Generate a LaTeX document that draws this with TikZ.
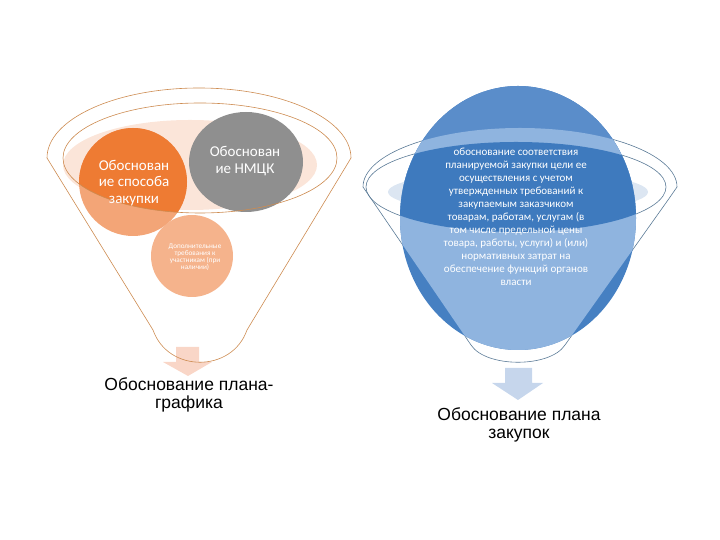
\documentclass[tikz,border=0pt]{standalone}
\usepackage{fontspec}
\setmainfont{Liberation Sans}
\newfontfamily\calfont{Carlito}
\usepackage{xcolor}
\definecolor{rimorange}{HTML}{CD8B50}
\definecolor{darkorange}{HTML}{EE7B33}
\definecolor{lightorange}{HTML}{F3A577}
\definecolor{peach}{HTML}{F5B38C}
\definecolor{paleorange}{HTML}{FBE5D9}
\definecolor{arroworange}{HTML}{F9D6C7}
\definecolor{midgray}{HTML}{8F8F8F}
\definecolor{rimblue}{HTML}{5A7A96}
\definecolor{topblue}{HTML}{5A8DCA}
\definecolor{sideblue}{HTML}{4680C2}
\definecolor{darkblue}{HTML}{3E7ABE}
\definecolor{lightblue}{HTML}{8FB4DF}
\definecolor{paleblue}{HTML}{DCE6F2}
\definecolor{arrowblue}{HTML}{C6D6EC}

\begin{document}
\begin{tikzpicture}[x=1pt,y=1pt,
    rim/.style={line width=0.6pt},
    circtext/.style={text=white, align=center, font=\calfont\fontsize{15}{16.5}\selectfont},
    caption/.style={align=center, font=\fontsize{17.5}{18.5}\selectfont}]
	\useasboundingbox (0,0) rectangle (720,540);
	\def\leftfunnel{(47,382) arc[start angle=180, end angle=0, x radius=152, y radius=70] -- (247,210) .. controls (232,167) and (168,167) .. (153,210) -- cycle}
	\def\leftinner{(200,382) ellipse[x radius=137, y radius=55]}
	\def\rightfunnel{(363,353) arc[start angle=180, end angle=0, x radius=157, y radius=59] -- (668,340) -- (565,195) .. controls (550,172) and (486,172) .. (471,195) -- (372,340) -- cycle}
	\def\rightinner{(516,353) ellipse[x radius=150, y radius=45]}
	\def\bigball{(518,322) ellipse[x radius=118, y radius=132]}

	% left funnel
	\fill[arroworange] (176,193) -- (199,193) -- (199,178) -- (212,178) -- (188,164) -- (163,178) -- (176,178) -- cycle;
	\fill[paleorange] (190,375) ellipse[x radius=127, y radius=45];
	\fill[lightorange] (133,358) circle[radius=54];
	\begin{scope}
		\clip \leftinner;
		\fill[darkorange] (133,358) circle[radius=54];
	\end{scope}
	\fill[midgray] (246,378) ellipse[x radius=57, y radius=50];
	\fill[peach] (192,284) circle[radius=41];
	\draw[rim, rimorange] \leftfunnel;
	\draw[rim, rimorange] \leftinner;

	\node[circtext] (way) at (134,357) {Обоснован\\ие способа\\закупки};
	\node[circtext] (nmck) at (245,379) {Обоснован\\ие НМЦК};
	\node[text=white, align=center, font=\calfont\fontsize{7.2}{6.8}\selectfont] (extra) at (195,283) {Дополнительные\\требования к\\участникам (при\\наличии)};
	\node[caption] (schedule) at (189,145) {Обоснование плана-\\графика};

	% right funnel
	\fill[arrowblue] (505,172) -- (532,172) -- (532,157) -- (543,157) -- (518,140) -- (492,157) -- (505,157) -- cycle;
	\fill[paleblue] (518,348) ellipse[x radius=130, y radius=21];
	\draw[rim, rimblue] \rightfunnel;
	\draw[rim, rimblue] \rightinner;
	\fill[sideblue] \bigball;
	\begin{scope}
		\clip (380,353) rectangle (660,460);
		\fill[topblue] \bigball;
	\end{scope}
	\begin{scope}
		\clip \rightfunnel;
		\fill[lightblue] \bigball;
	\end{scope}
	\begin{scope}
		\clip \rightinner;
		\fill[darkblue] \bigball;
	\end{scope}

	\node[text=white, align=center, font=\calfont\fontsize{11}{13}\selectfont] (aim) at (516,323) {обоснование соответствия\\планируемой закупки цели ее\\осуществления с учетом\\утвержденных требований к\\закупаемым заказчиком\\товарам, работам, услугам (в\\том числе предельной цены\\товара, работы, услуги) и (или)\\нормативных затрат на\\обеспечение функций органов\\власти};
	\node[caption] (plan) at (519,115) {Обоснование плана\\закупок};
\end{tikzpicture}
\end{document}
